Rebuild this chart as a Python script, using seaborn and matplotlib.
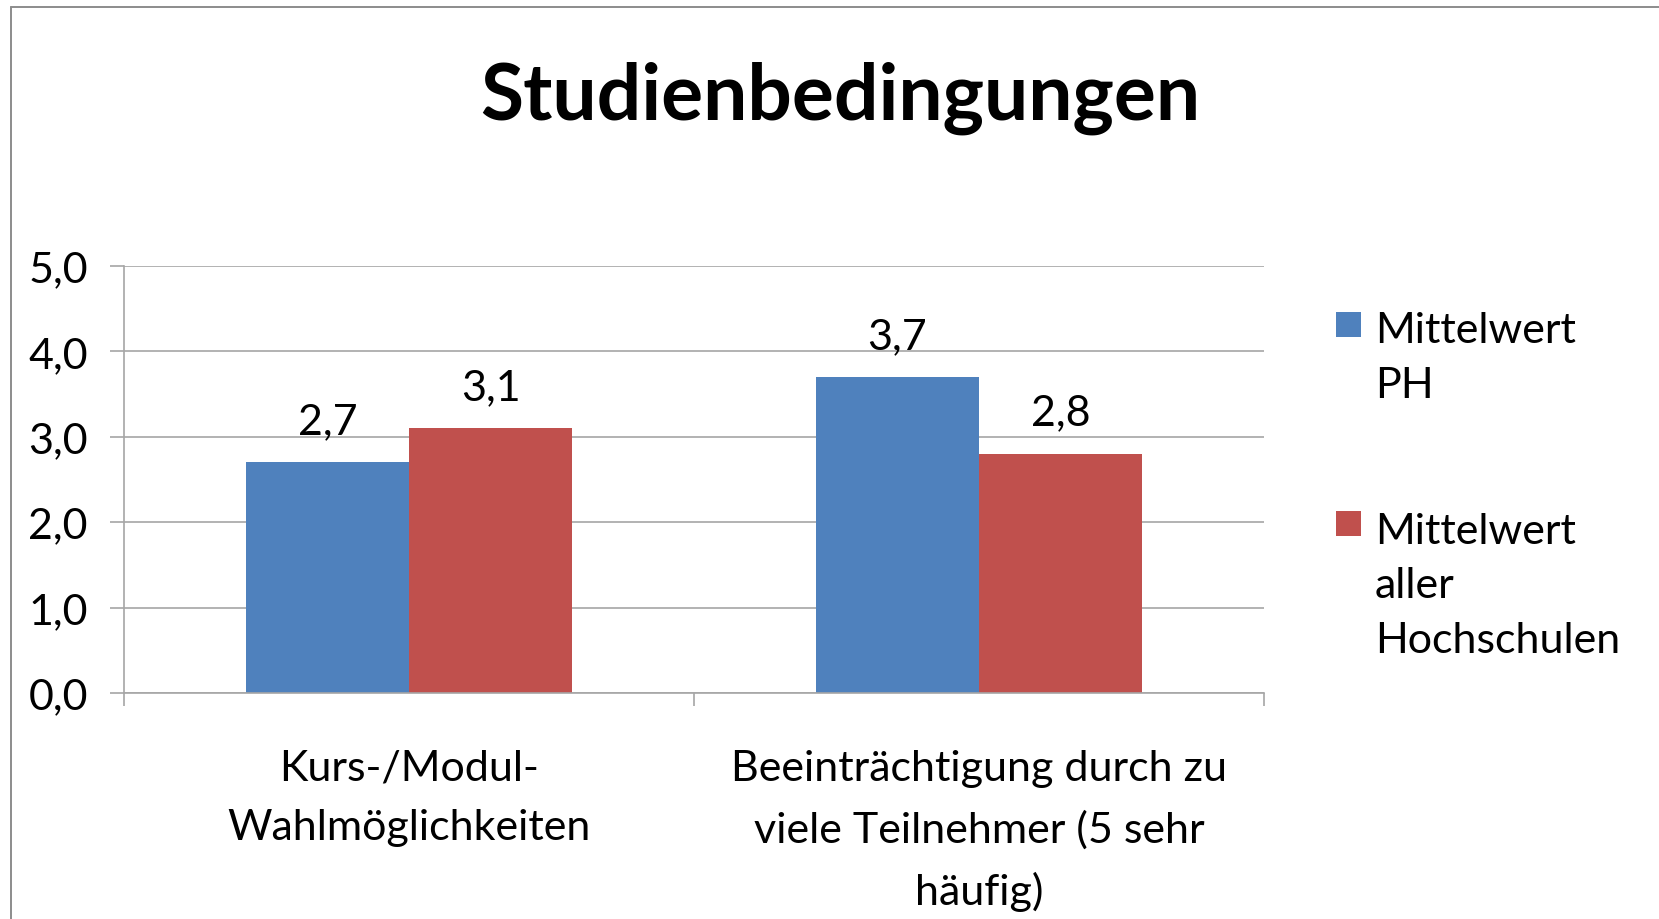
import matplotlib
matplotlib.use("Agg")
import matplotlib.pyplot as plt
import seaborn as sns
import pandas as pd
from matplotlib.lines import Line2D
from matplotlib.patches import Rectangle
from matplotlib.ticker import FixedLocator

# ---- data ----
categories = ["Kurs-/Modul-\nWahlmöglichkeiten",
              "Beeinträchtigung durch zu\nviele Teilnehmer (5 sehr\nhäufig)"]
series = ["Mittelwert\nPH", "Mittelwert\naller\nHochschulen"]
values_ph = [2.7, 3.7]
values_all = [3.1, 2.8]
yticks = [0, 1, 2, 3, 4, 5]
title = "Studienbedingungen"

colors = ["#4F81BD", "#C0504D"]

df = pd.DataFrame({
    "Kategorie": categories * 2,
    "Serie": [series[0]] * 2 + [series[1]] * 2,
    "Wert": values_ph + values_all,
})

sns.set_style("white")
plt.rcParams["font.family"] = ["Lato", "DejaVu Sans"]
plt.rcParams["text.color"] = "black"
plt.rcParams["xtick.color"] = "black"
plt.rcParams["ytick.color"] = "black"

FS = 31
W, H = 1659, 920
fig = plt.figure(figsize=(W / 100, H / 100), dpi=100)
ax = fig.add_axes([124 / W, 1 - 694 / H, (1264 - 124) / W, (694 - 267) / H])

sns.barplot(data=df, x="Kategorie", y="Wert", hue="Serie", order=categories,
            hue_order=series, palette=colors, width=0.572, linewidth=0,
            saturation=1, legend=False, ax=ax)

ax.set_xlim(-0.5, 1.5)
ax.set_ylim(0, 5)
grid_c = "#a6a6a6"
ax.set_yticks(yticks)
ax.set_yticklabels([f"{v:.1f}".replace(".", ",") for v in yticks])
ax.yaxis.grid(True, color=grid_c, linewidth=1.2)
ax.set_axisbelow(True)
for s in ["top", "right"]:
    ax.spines[s].set_visible(False)
for s in ["left", "bottom"]:
    ax.spines[s].set_color(grid_c)
    ax.spines[s].set_linewidth(1.2)

ax.tick_params(axis="y", which="major", length=10, width=1.2, color=grid_c,
               labelcolor="black", direction="out", pad=16, labelsize=FS, left=True)
ax.tick_params(axis="x", which="major", length=0, pad=40, labelsize=FS,
               labelcolor="black")
ax.xaxis.set_minor_locator(FixedLocator([-0.5, 0.5, 1.5]))
ax.tick_params(axis="x", which="minor", length=9.5, width=1.2, color=grid_c,
               direction="out", bottom=True)
for lbl in ax.get_xticklabels():
    lbl.set_linespacing(1.69)
ax.set_xlabel("")
ax.set_ylabel("")

for cont in ax.containers:
    ax.bar_label(cont, labels=[f"{b.get_height():.1f}".replace(".", ",") for b in cont],
                 padding=16, fontsize=FS, color="black")

# legend (markers aligned with first line of each label, as in the original)
leg_tops = [313, 512]
step = 56
for i, (lab, col) in enumerate(zip(series, colors)):
    y0 = leg_tops[i]
    n = lab.count("\n")
    fig.add_artist(Rectangle((1336 / W, 1 - (y0 + 25) / H), 25 / W, 25 / H,
                             facecolor=col, edgecolor="none",
                             transform=fig.transFigure))
    fig.text(1375 / W, 1 - (y0 + 29 + n * step) / H, lab, ha="left", va="baseline",
             fontsize=FS, linespacing=1.54, color="black")

fig.text(840 / W, 1 - 120 / H, title, ha="center", va="baseline",
         fontsize=56.5, fontweight="bold", color="black")

# outer frame (top and left edges visible)
bc = "#8c8c8c"
fig.add_artist(Line2D([11 / W, 11 / W], [0, 1 - 8 / H], color=bc, linewidth=1.4,
                      transform=fig.transFigure))
fig.add_artist(Line2D([11 / W, 1], [1 - 8 / H, 1 - 8 / H], color=bc, linewidth=1.4,
                      transform=fig.transFigure))

fig.savefig("out.png", dpi=100, facecolor="white")
